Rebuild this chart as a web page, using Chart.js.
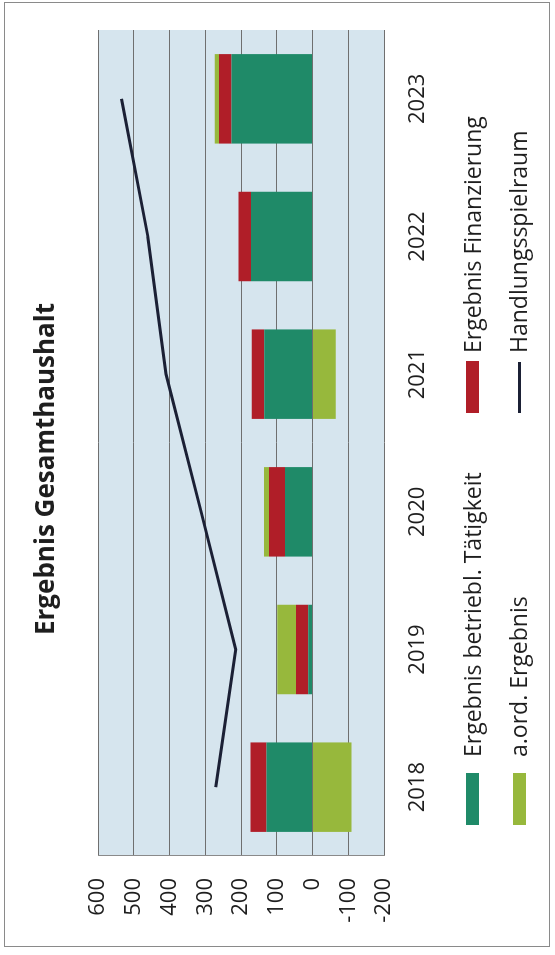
<!DOCTYPE html>
<html>
<head>
<meta charset="utf-8">
<script src="https://cdn.jsdelivr.net/npm/chart.js@4.4.1/dist/chart.umd.min.js"></script>
<style>
  html, body { margin:0; padding:0; background:#ffffff; width:555px; height:955px; overflow:hidden; }
  #frame { position:absolute; left:4px; top:2px; width:546px; height:945px; border:1px solid #8a8a8a; box-sizing:border-box; }
  #rot { position:absolute; left:0; top:0; width:955px; height:555px; transform-origin:0 0; transform:translateY(955px) rotate(-90deg); }
  #c { position:absolute; left:0; top:0; }
  .lg { position:absolute; font-family:"Open Sans", sans-serif; font-size:23px; color:#1e1e1e; white-space:nowrap; line-height:28px; }
  .key { position:absolute; }
</style>
</head>
<body>
<div id="frame"></div>
<div id="rot">
  <canvas id="c" width="955" height="555"></canvas>
  <div id="legend"></div>
</div>
<script>
// ---- data ----
const years = ['2018', '2019', '2020', '2021', '2022', '2023'];
const betrieblTaetigkeit = [129, 12, 77, 135, 172, 227];
const finanzierung = [45, 34, 45, 35, 35, 35];
const aordErgebnis = [-109, 53, 14, -65, 0, 12];
const handlungsspielraum = [271, 215, 312, 410, 461, 535];
const yMin = -200, yMax = 600, yStep = 100;

const FONT = '"Open Sans", sans-serif';
const TXT = '#1e1e1e';

const plotBg = {
  id: 'plotBg',
  beforeDraw(chart) {
    const a = chart.chartArea, ctx = chart.ctx;
    ctx.save();
    ctx.fillStyle = '#d6e5ee';
    ctx.fillRect(a.left, a.top, a.right - a.left, a.bottom - a.top);
    ctx.restore();
  }
};

// centre the title over the span used in the original (slightly right of canvas centre)
const titleSpan = {
  id: 'titleSpan',
  afterLayout(chart) {
    if (chart.titleBlock) {
      chart.titleBlock.left = 47;
      chart.titleBlock.right = 925;
      chart.titleBlock.width = 878;
    }
  }
};

const chart = new Chart(document.getElementById('c'), {
  type: 'bar',
  data: {
    labels: years,
    datasets: [
      { label: 'Ergebnis betriebl. Tätigkeit', data: betrieblTaetigkeit, backgroundColor: '#1f8a68', stack: 'bars', order: 2,
        categoryPercentage: 0.65, barPercentage: 1 },
      { label: 'Ergebnis Finanzierung', data: finanzierung, backgroundColor: '#b01e28', stack: 'bars', order: 2,
        categoryPercentage: 0.65, barPercentage: 1 },
      { label: 'a.ord. Ergebnis', data: aordErgebnis, backgroundColor: '#97b83c', stack: 'bars', order: 2,
        categoryPercentage: 0.65, barPercentage: 1 },
      { type: 'line', label: 'Handlungsspielraum', data: handlungsspielraum, borderColor: '#1b2035', backgroundColor: '#1b2035',
        borderWidth: 3, pointRadius: 0, tension: 0, fill: false, stack: 'line', order: 1 }
    ]
  },
  options: {
    responsive: false,
    animation: false,
    devicePixelRatio: 1,
    layout: { padding: { left: 0, right: 30, top: 0, bottom: 0 } },
    plugins: {
      legend: { display: false },
      tooltip: { enabled: false },
      title: {
        display: true,
        text: 'Ergebnis Gesamthaushalt',
        color: TXT,
        font: { family: FONT, size: 26, weight: 'bold', lineHeight: 1.2 },
        padding: { top: 31, bottom: 36 }
      }
    },
    scales: {
      x: {
        stacked: true,
        grid: { display: false, drawTicks: false },
        border: { display: false },
        ticks: { color: TXT, font: { family: FONT, size: 22 }, padding: 21, maxRotation: 0 },
        afterFit(s) { s.height = 171; }
      },
      y: {
        stacked: true,
        min: yMin, max: yMax,
        grid: { color: '#6f6f6f', lineWidth: 1, drawTicks: false },
        border: { display: true, color: '#8a8a8a', width: 1 },
        ticks: { stepSize: yStep, color: TXT, font: { family: FONT, size: 22 }, padding: 22 },
        afterFit(s) { s.width = 99; }
      }
    }
  },
  plugins: [plotBg, titleSpan]
});

// ---- legend (two aligned columns) ----
const lg = document.getElementById('legend');
const cols = [130, 542];
const textCols = [198, 602];
const rows = [472.5, 519];
[0, 1, 2, 3].forEach((di, i) => {
  const ds = chart.data.datasets[di];
  const col = i % 2, row = Math.floor(i / 2);
  const k = document.createElement('div');
  k.className = 'key';
  if (ds.type === 'line') {
    k.style.cssText = `left:${cols[col]}px;top:${rows[row] - 1.5}px;width:51px;height:3px;background:${ds.borderColor}`;
  } else {
    k.style.cssText = `left:${cols[col]}px;top:${rows[row] - 6.5}px;width:52px;height:13px;background:${ds.backgroundColor}`;
  }
  lg.appendChild(k);
  const t = document.createElement('div');
  t.className = 'lg';
  t.textContent = ds.label;
  t.style.left = textCols[col] + 'px';
  t.style.top = (rows[row] - 15) + 'px';
  lg.appendChild(t);
});
</script>
</body>
</html>
